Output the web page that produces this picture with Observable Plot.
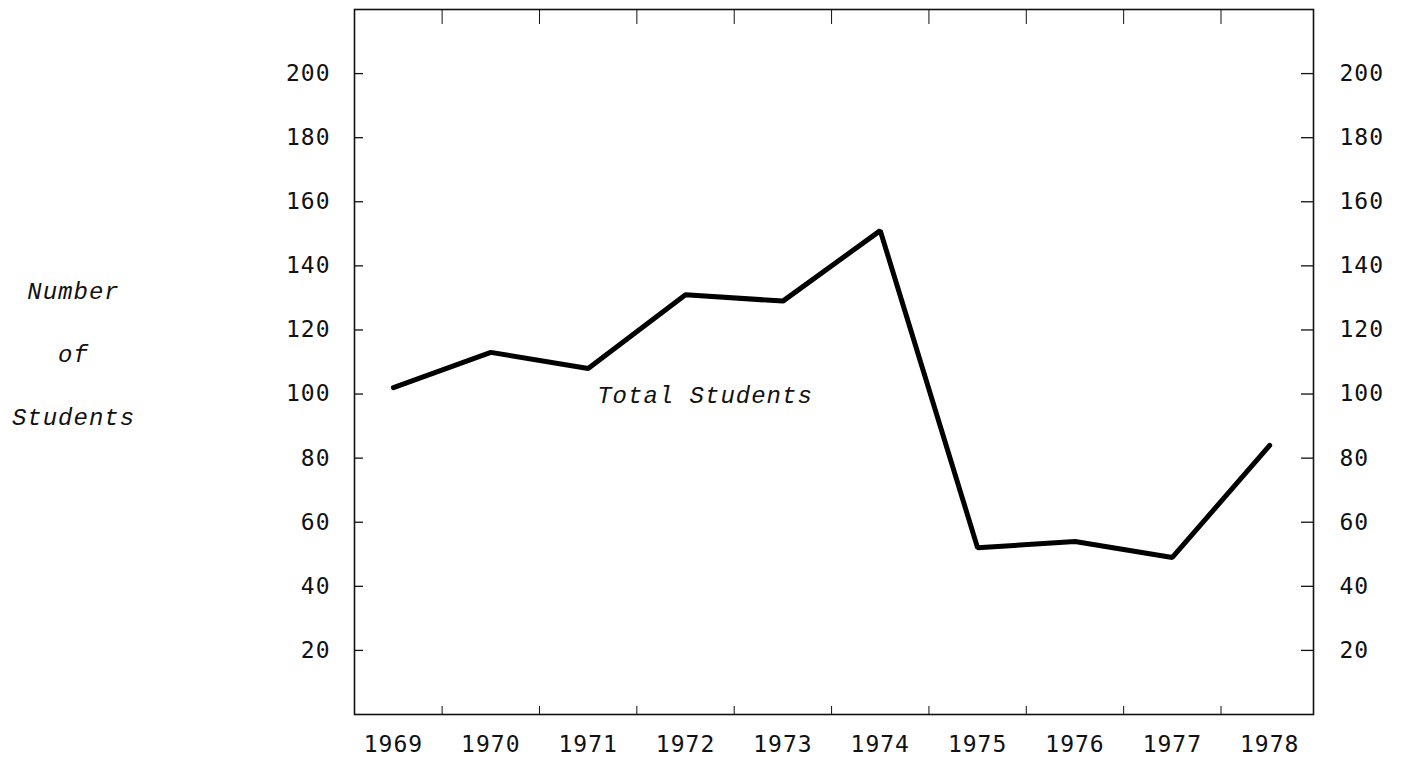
<!DOCTYPE html>
<html>
<head>
<meta charset="utf-8">
<script src="https://cdn.jsdelivr.net/npm/d3@7"></script>
<script src="https://cdn.jsdelivr.net/npm/@observablehq/plot@0.6"></script>
<style>
  body { margin: 0; background: #fff; }
  svg { display: block; }
</style>
</head>
<body>
<div id="chart"></div>
<script>
// ---- data ----
const years = [1969, 1970, 1971, 1972, 1973, 1974, 1975, 1976, 1977, 1978];
const totalStudents = [102, 113, 108, 131, 129, 151, 52, 54, 49, 84];
const yTicks = [20, 40, 60, 80, 100, 120, 140, 160, 180, 200];
const halfYearTicks = [1969.5, 1970.5, 1971.5, 1972.5, 1973.5, 1974.5, 1975.5, 1976.5, 1977.5];
const seriesLabel = ["Total Students"];
const seriesLabelYear = [1972.2];
const seriesLabelValue = [99.5];
const axisTitle = ["Number\nof\nStudents"];

const data = years.map((year, i) => ({ year, value: totalStudents[i] }));
const labelData = seriesLabel.map((t, i) => ({ text: t, x: seriesLabelYear[i], y: seriesLabelValue[i] }));

const ink = "#111";
const tickFont = "DejaVu Sans Mono";
const italicFont = "Liberation Mono";

const W = 1408, H = 761, mL = 354, mR = 95, mT = 9, mB = 47;
const frameW = W - mL - mR;

const chart = Plot.plot({
  width: W,
  height: H,
  marginLeft: mL,
  marginRight: mR,
  marginTop: mT,
  marginBottom: mB,
  x: { domain: [1968.6, 1978.45] },
  y: { domain: [0, 220] },
  style: { fontFamily: tickFont, fontSize: "23px", color: ink, background: "white", letterSpacing: "1px" },
  marks: [
    Plot.frame({ stroke: ink, strokeWidth: 1.6 }),
    // inward tick marks
    Plot.axisX(halfYearTicks, { anchor: "bottom", tickSize: -8, tickFormat: () => "", label: null }),
    Plot.axisX(halfYearTicks, { anchor: "top", tickSize: -14, tickFormat: () => "", label: null }),
    Plot.tickY(yTicks, { y: d => d, stroke: ink, strokeWidth: 1.3, insetRight: frameW - 9 }),
    Plot.tickY(yTicks, { y: d => d, stroke: ink, strokeWidth: 1.3, insetLeft: frameW - 12 }),
    // tick labels
    Plot.axisX(years, { anchor: "bottom", tickSize: 0, tickPadding: 21, tickFormat: d => String(d), label: null, fontSize: 23 }),
    Plot.axisY(yTicks, { anchor: "left", tickSize: 0, tickPadding: 24, tickFormat: d => String(d), label: null, fontSize: 23 }),
    Plot.axisY(yTicks, { anchor: "right", tickSize: 0, tickPadding: 26, tickFormat: d => String(d), label: null, fontSize: 23 }),
    // data line
    Plot.line(data, { x: "year", y: "value", stroke: "#000", strokeWidth: 5, strokeLinejoin: "miter", strokeLinecap: "round" }),
    // series label
    Plot.text(labelData, { x: "x", y: "y", text: "text", fontFamily: italicFont, fontStyle: "italic", fontSize: 24, fill: ink, textAnchor: "middle" }),
    // y axis title
    Plot.text(axisTitle, { frameAnchor: "left", dx: -281, dy: -20, textAnchor: "middle", lineHeight: 2.62, fontFamily: italicFont, fontStyle: "italic", fontSize: 24, fill: ink })
  ]
});

document.getElementById("chart").appendChild(chart);
</script>
</body>
</html>
